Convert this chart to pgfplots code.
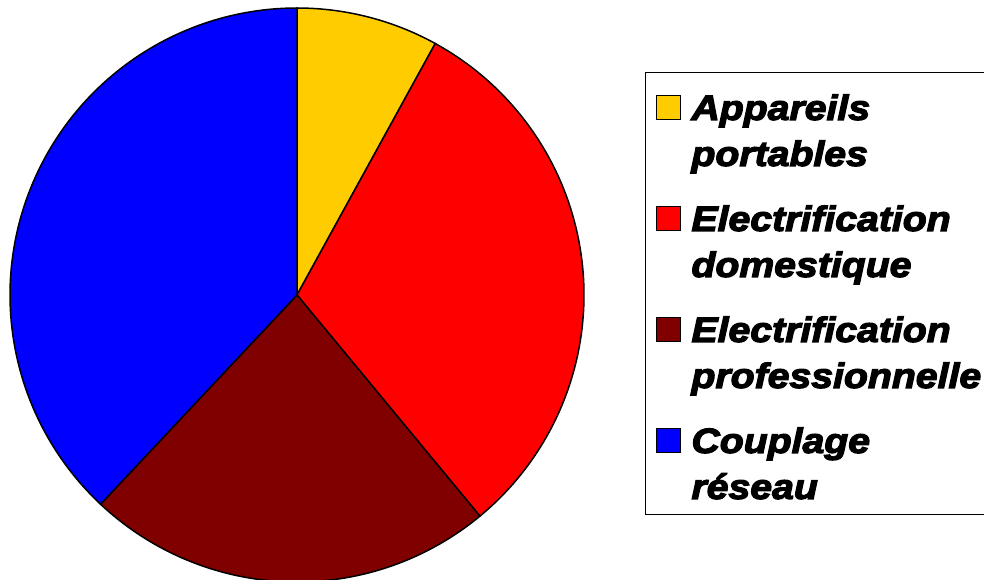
\documentclass[border=0pt]{standalone}
\usepackage{pgfplots}
\pgfplotsset{compat=1.18}
\usepackage{fontspec}
\setmainfont{Liberation Sans}
\newfontfamily\legfont[FakeBold=3.5,FakeStretch=1.12]{Liberation Sans Bold Italic}
\definecolor{cA}{RGB}{255,204,0}
\definecolor{cB}{RGB}{255,0,0}
\definecolor{cC}{RGB}{128,0,0}
\definecolor{cD}{RGB}{0,0,255}
% shares (percent), clockwise from 12 o'clock
\def\vA{8}\def\vB{31}\def\vC{23}\def\vD{38}
\pgfmathsetmacro\aA{90}
\pgfmathsetmacro\aB{\aA-3.6*\vA}
\pgfmathsetmacro\aC{\aB-3.6*\vB}
\pgfmathsetmacro\aD{\aC-3.6*\vC}
\pgfmathsetmacro\aE{\aD-3.6*\vD}
\newcommand\ent[2]{\begin{tabular}[b]{@{}l@{}}#1\\#2\end{tabular}}
\begin{document}
\begin{tikzpicture}
\begin{axis}[
  at={(148.5pt,142pt)}, anchor=origin,
  x=143.5pt, y=143.5pt,
  xmin=-1, xmax=1, ymin=-1, ymax=1,
  hide axis, clip=false,
  legend style={at={(axis cs:1.2125,0.777)}, anchor=north west,
    draw=black, line width=0.5pt,
    font=\legfont\fontsize{17.5}{23}\selectfont,
    inner xsep=5.5pt, inner ysep=4.2pt, row sep=10.9pt, column sep=3pt,
    cells={anchor=base west, inner sep=0pt}},
  legend image code/.code={\draw[#1, draw=black, line width=0.5pt] (0pt,23pt) rectangle (12pt,35pt);},
]
\addplot[fill=cA, draw=black, line width=0.75pt, domain=\aB:\aA, samples=60, variable=\t] ({cos(\t)},{sin(\t)}) -- (axis cs:0,0) -- cycle;
\addlegendentry{\ent{\rule{0pt}{17.5pt}Appareils}{portables}}
\addplot[fill=cB, draw=black, line width=0.75pt, domain=\aC:\aB, samples=120, variable=\t] ({cos(\t)},{sin(\t)}) -- (axis cs:0,0) -- cycle;
\addlegendentry{\ent{Electrification}{domestique}}
\addplot[fill=cC, draw=black, line width=0.75pt, domain=\aD:\aC, samples=100, variable=\t] ({cos(\t)},{sin(\t)}) -- (axis cs:0,0) -- cycle;
\addlegendentry{\ent{Electrification}{professionnelle}}
\addplot[fill=cD, draw=black, line width=0.75pt, domain=\aE:\aD, samples=140, variable=\t] ({cos(\t)},{sin(\t)}) -- (axis cs:0,0) -- cycle;
\addlegendentry{\ent{Couplage}{réseau\rule[-10.9pt]{0pt}{10.9pt}}}
\end{axis}
\pgfresetboundingbox
\path (0,0) rectangle (492pt,289.5pt);
\end{tikzpicture}
\end{document}
